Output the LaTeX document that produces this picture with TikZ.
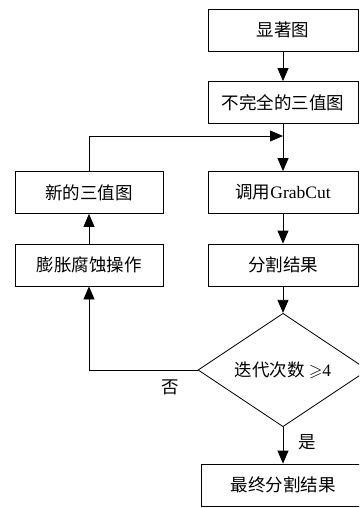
\documentclass[tikz,border=0pt]{standalone}
\usepackage{amssymb}
\usepackage{fontspec}
\setmainfont{Liberation Serif}
\newfontfamily\cjk{Noto Sans CJK SC}
\usetikzlibrary{arrows.meta,shapes.geometric}
\begin{document}
\begin{tikzpicture}[x=1pt,y=-1pt,
  txt/.style={font=\cjk\fontsize{17.5}{17.5}\selectfont},
  box/.style={draw,line width=0.8pt,minimum width=150pt,minimum height=42pt,inner sep=0pt,txt},
  dec/.style={draw,line width=0.8pt,diamond,minimum width=170pt,minimum height=103pt,inner sep=0pt,txt},
  arr/.style={line width=0.8pt,-{Triangle[length=13pt,width=11pt]}},
  lab/.style={txt}]
\useasboundingbox (0,0) rectangle (359,508);
\clip (0,0) rectangle (359,508);
\node[box] (b1) at (283,30) {显著图};
\node[box] (b2) at (283,102.5) {不完全的三值图};
\node[box] (b3) at (283,192.5) {调用{\rmfamily GrabCut}};
\node[box] (b4) at (283,265) {分割结果};
\node[dec] (d) at (283,370) {迭代次数 {\rmfamily$\geqslant$4}};
\node[box,minimum width=164pt] (f) at (283,485) {最终分割结果};
\node[box,minimum width=148pt] (n1) at (89,192.5) {新的三值图};
\node[box,minimum width=148pt] (p) at (89,265) {膨胀腐蚀操作};
\coordinate (m) at (283,136);
\draw[arr] (b1) -- (b2);
\draw[arr] (b2) -- (b3);
\draw[arr] (n1.north) |- (m);
\draw[arr] (b3) -- (b4);
\draw[arr] (b4) -- (d);
\draw[arr] (d) -- (f);
\draw[arr] (d.west) -| (p.south);
\draw[arr] (p) -- (n1);
\node[lab] (yes) at (307,442) {是};
\node[lab] (no) at (170,387) {否};
\end{tikzpicture}
\end{document}
